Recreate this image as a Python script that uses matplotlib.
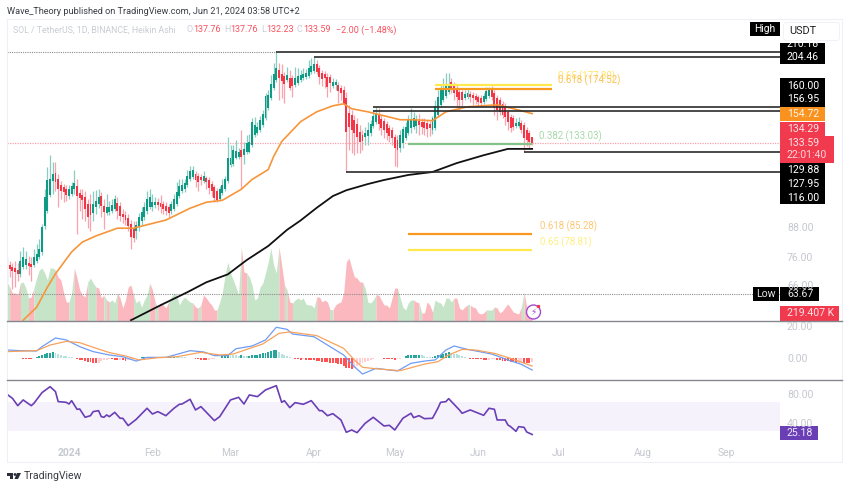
import matplotlib
matplotlib.use("Agg")
import matplotlib.pyplot as plt
import matplotlib.dates as mdates
from matplotlib.patches import Rectangle, Circle, Polygon, FancyBboxPatch
import numpy as np
import pandas as pd

plt.rcParams['font.family'] = ['Roboto', 'DejaVu Sans']

# Heikin Ashi candles, one value per day from 2023-12-09
opens = [67.8,73.3,72.6,72.3,71.6,70.2,72.6,73.3,74.0,73.7,
    73.3,74.8,76.3,78.2,88.8,95.6,103.4,110.7,115.2,111.8,
    108.6,107.5,106.5,102.9,103.9,106.5,108.0,104.4,103.4,102.4,
    98.9,98.9,94.7,97.5,98.9,102.9,98.0,94.7,95.1,95.6,
    96.5,99.4,98.0,94.2,93.7,92.4,89.7,87.5,86.7,88.4,
    91.0,92.8,95.6,97.5,97.5,98.4,99.9,99.4,98.9,98.0,
    97.5,95.6,96.5,98.9,102.9,105.4,106.5,108.6,111.8,112.9,
    114.6,113.5,112.9,110.7,112.4,111.3,109.1,107.5,105.4,101.4,
    104.4,106.5,110.7,119.8,120.4,124.5,125.2,129.6,126.4,128.3,
    128.3,132.8,139.5,140.8,142.9,146.5,151.6,159.2,167.2,175.7,
    182.7,191.9,188.2,186.3,182.7,184.5,184.5,178.3,180.0,182.7,
    184.5,185.4,186.3,190.0,191.0,197.6,193.8,189.1,188.2,185.4,
    185.4,177.4,178.3,178.3,175.7,174.0,167.2,155.4,153.9,150.1,
    147.2,141.5,139.5,138.1,138.8,140.8,145.8,148.7,153.9,150.9,
    149.4,147.2,144.3,142.9,138.1,136.1,130.8,134.1,137.4,140.8,
    144.3,145.0,145.8,149.4,148.7,148.7,147.9,147.2,142.9,144.3,
    153.9,161.6,165.6,168.9,172.3,180.9,178.3,175.7,172.3,172.3,
    167.2,168.1,170.6,169.7,168.9,168.1,167.2,164.0,166.4,168.9,
    174.0,171.4,167.2,165.6,162.4,160.8,156.1,152.3,151.6,145.8,
    145.8,147.9,146.5,142.9,140.8,137.76]
closes = [74.4,71.9,71.2,70.9,70.2,74.8,76.3,75.5,73.0,72.6,
    76.3,77.4,79.3,88.4,102.4,111.3,111.8,114.6,110.2,106.5,
    105.4,104.9,103.4,106.5,108.0,109.6,102.9,101.9,100.9,96.5,
    92.8,93.7,98.9,100.4,102.4,98.0,95.1,97.5,97.5,98.4,
    101.4,95.6,93.3,92.8,91.5,88.8,84.1,83.7,89.3,92.8,
    95.1,97.5,101.4,102.4,99.9,99.9,98.4,97.5,96.5,95.6,
    94.7,98.9,101.4,104.9,108.0,108.6,109.6,114.0,116.3,116.9,
    111.3,110.2,111.3,113.5,110.2,107.0,105.4,101.9,100.9,106.5,
    108.6,111.8,124.5,124.5,129.6,128.9,128.3,125.2,130.2,134.1,
    134.8,148.7,146.5,145.0,150.1,154.6,168.9,169.7,179.2,188.2,
    193.8,184.5,181.8,179.2,187.3,175.7,177.4,184.5,186.3,187.3,
    188.2,189.1,193.8,195.7,197.6,190.0,185.4,183.6,184.5,176.5,
    180.0,180.9,180.9,173.1,171.4,162.4,141.5,145.0,142.9,140.8,
    138.1,134.8,135.4,140.8,142.9,147.2,153.1,155.4,147.2,144.3,
    142.9,140.8,138.8,137.4,130.8,129.6,139.5,143.6,145.0,150.1,
    150.1,151.6,150.1,146.5,145.0,144.3,143.6,144.3,151.6,160.8,
    168.1,174.0,175.7,179.2,179.2,174.0,171.4,168.1,165.6,165.6,
    170.6,171.4,168.1,167.2,165.6,164.0,163.2,168.9,173.1,174.0,
    168.1,160.0,157.7,156.1,153.9,152.3,148.7,144.3,145.0,147.9,
    148.7,142.9,137.4,136.1,134.8,133.59]
highs = [76.3,74.8,74.0,74.8,74.0,78.5,80.1,78.5,76.6,76.3,
    79.3,81.3,83.3,89.7,106.5,118.6,126.4,121.6,121.6,114.6,
    110.7,109.1,108.6,108.6,110.2,116.9,111.8,106.5,106.5,105.4,
    101.4,103.9,105.4,105.9,106.5,104.9,101.4,103.9,100.4,101.4,
    103.4,102.4,99.9,96.5,95.6,94.2,91.5,91.0,91.0,94.7,
    97.5,99.9,105.4,106.5,103.9,102.4,101.9,103.4,100.4,99.9,
    98.9,100.4,103.9,110.2,111.8,111.8,111.8,117.4,119.2,119.2,
    116.3,115.2,114.6,116.3,114.0,112.9,110.7,108.6,107.0,108.0,
    111.8,114.0,138.1,132.8,132.8,136.1,130.8,142.9,134.8,139.5,
    140.1,151.6,152.3,148.7,153.1,157.7,171.4,174.0,187.3,198.6,
    210.18,198.6,197.6,190.0,194.7,191.9,187.3,194.7,193.8,191.9,
    193.8,192.8,201.6,203.6,204.6,201.6,196.7,191.9,191.0,189.1,
    188.2,184.5,183.6,180.9,178.3,177.4,172.3,161.6,157.7,153.9,
    151.6,146.5,142.9,145.0,148.7,150.1,157.7,160.0,159.2,153.9,
    151.6,149.4,146.5,145.0,140.1,139.5,142.9,145.8,148.7,153.9,
    159.2,156.1,153.9,154.6,151.6,151.6,150.1,149.4,153.1,165.6,
    174.0,179.2,184.5,189.1,189.1,184.5,180.9,178.3,174.8,174.0,
    174.0,174.8,173.1,172.3,171.4,169.7,169.7,171.4,176.5,176.5,
    177.4,174.0,169.7,168.1,164.8,163.2,158.5,154.6,153.9,151.6,
    152.3,150.1,148.7,145.0,142.9,137.76]
lows = [67.5,69.2,65.2,65.9,67.8,69.2,71.9,71.9,69.9,67.8,
    72.6,74.0,75.5,77.0,87.5,94.7,102.4,103.9,105.4,97.5,
    101.4,99.9,100.4,101.4,102.9,103.9,85.4,95.6,91.9,91.0,
    87.9,86.7,91.0,94.2,97.0,92.8,87.5,93.7,93.7,94.7,
    95.6,91.9,91.0,90.1,89.3,86.7,79.3,82.1,83.3,86.7,
    89.3,91.5,94.2,96.5,95.6,97.0,96.1,94.7,94.2,93.7,
    92.8,94.2,95.6,98.0,101.9,104.4,104.9,107.5,110.7,111.8,
    107.5,105.4,108.6,109.6,106.5,103.9,102.9,99.9,99.9,100.4,
    103.4,105.4,109.6,118.6,119.2,123.4,123.9,106.5,120.4,127.0,
    127.6,131.5,138.1,139.5,141.5,145.0,150.1,157.7,165.6,174.0,
    180.9,165.6,167.2,163.2,180.9,174.0,168.1,176.5,178.3,180.9,
    182.7,183.6,184.5,188.2,189.1,188.2,179.2,177.4,175.7,168.1,
    172.3,175.7,174.0,163.2,165.6,161.6,116.3,129.6,127.6,126.4,
    127.6,127.6,129.6,132.8,132.8,138.8,144.3,147.2,142.9,139.5,
    137.4,136.1,134.8,132.8,119.2,118.6,128.3,130.8,136.1,139.5,
    140.8,143.6,140.8,139.5,140.1,139.5,138.1,138.8,140.1,142.9,
    152.3,160.0,164.0,167.2,170.6,171.4,165.6,160.0,157.7,160.8,
    165.6,166.4,164.0,161.6,162.4,160.8,160.8,162.4,164.8,167.2,
    165.6,153.9,150.1,153.9,151.6,146.5,142.9,141.5,142.9,144.3,
    144.3,140.8,128.3,132.1,130.8,132.23]

# moving averages, read at the day numbers given
ema50_days = [6,11,15,18,24,28,33,41,47,50,59,68,74,80,87,91,97,99,102,109,115,121,125,128,134,140,146,151,158,163,171,182,188,195]
ema50_vals = [55.8,59.5,65.7,70.2,78.2,82.1,84.6,87.9,87.9,88.8,91.5,97.0,99.9,100.9,106.5,111.8,117.4,125.2,134.8,148.7,156.1,160.8,162.4,158.5,156.1,153.1,150.1,150.1,149.4,156.1,160.0,161.6,158.5,154.72]
ema200_days = [46,57,67,74,82,89,97,104,109,115,121,126,134,140,149,158,167,177,186,195]
ema200_vals = [55.8,60.1,64.1,67.3,70.0,75.1,80.5,87.2,91.3,97.2,103.0,106.0,109.3,111.5,114.3,116.0,121.2,126.0,130.0,130.0]

# thousands
volume = [1404,1224,1008,1008,936,1368,1404,1188,828,864,
    1188,1548,1836,1908,1728,1476,1908,1908,1836,1584,
    1476,1044,684,684,1008,1908,1548,1116,936,864,
    1404,1548,1368,1224,1188,828,936,756,684,756,
    648,1008,828,468,756,1224,1296,936,648,756,
    504,756,936,1368,1116,684,504,648,576,468,
    684,864,1008,936,576,756,864,756,684,648,
    504,468,576,936,828,684,576,396,396,684,
    1044,1656,2124,1728,1476,1224,936,2664,1764,1728,
    1584,1296,756,828,1224,1368,1728,2124,2628,2016,
    1728,2664,2016,1296,1116,684,648,756,828,756,
    828,612,576,576,468,864,864,684,756,684,
    396,396,576,648,684,1008,2124,2268,1908,1584,
    1548,1404,1404,1188,684,648,756,936,936,756,
    576,576,468,828,1188,1188,828,504,396,648,
    756,756,684,648,288,288,684,576,324,756,
    684,648,504,828,828,684,828,828,468,396,
    504,576,576,504,468,288,252,288,396,396,
    396,504,468,288,360,504,612,468,324,288,
    252,504,1044,504,324,219]
volume_side = ("GRRRRGGGRRGGGGGGGGRRRRRGGRRRRRGGGRRRGRGGGRRRRRRGGGGGGRRGRRRR"
    "GGGGGGGGGRRGRRRRRRGGGGGGGGGRRGGGGGGGGGGGGRRGRRGGGGGGGGGRRRRRG"
    "RRRRRRRRRRRGGGGGRRRRRRRRGGGGGGRRGRRRRGGGGGGGGRRRRRGRRRRRRGGGRR"
    "RRRRRRRRGRRRRR")

macd_days = [0,5,11,13,18,22,27,32,38,43,48,52,59,68,73,77,82,85,91,96,100,104,106,114,119,125,129,132,137,145,150,155,159,163,166,171,180,186,191,195]
macd_vals = [5.2,4.8,4.6,7.3,12.7,11.5,7.3,4.2,2.1,1.0,-1.7,0.6,0.6,4.8,4.0,1.7,1.7,6.0,7.7,11.5,19.4,18.1,15.2,13.5,8.3,2.1,-5.2,-9.8,-6.25,-7.9,-3.1,-1.7,-1.0,5.2,7.7,5.6,2.7,-1.0,-3.75,-7.3]
signal_days = [0,11,16,22,27,32,38,44,49,56,63,72,79,84,95,101,105,115,125,129,132,137,146,155,160,164,169,174,181,187,195]
signal_vals = [4.2,4.8,8.3,10.6,9.8,6.9,3.6,1.5,-1.0,0.4,1.0,3.75,2.1,2.7,9.0,15.6,16.5,14.2,6.25,-1.0,-5.6,-6.5,-7.7,-3.6,-2.1,2.1,5.6,5.2,3.1,0.0,-4.8]
macd_hist = [0.3,0.3,0.2,0.2,0.2,0.2,-0.2,-0.2,-0.3,-0.3,
    0.2,0.8,1.5,2.2,2.8,3.2,3.5,3.8,3.4,2.6,
    2.2,1.7,1.3,1.0,0.7,0.3,-0.3,-0.8,-1.3,-1.6,
    -2.0,-2.4,-2.8,-3.0,-2.6,-1.8,-1.2,-0.9,-0.7,-0.7,
    -0.9,-1.1,-1.0,-1.3,-1.6,-1.1,-0.8,-0.4,0.2,0.4,
    0.6,0.7,0.8,0.7,0.7,0.9,0.8,0.7,0.6,0.5,
    0.9,1.0,1.1,1.0,0.9,0.7,0.6,0.4,0.3,0.2,
    -0.3,-0.6,-0.9,-1.1,-1.3,-1.0,-0.6,-0.3,0.2,0.5,
    1.5,2.2,2.6,2.3,2.0,1.8,1.6,2.0,1.7,1.4,
    1.6,1.8,2.0,2.4,2.8,3.2,3.6,4.0,4.6,5.2,
    5.4,4.2,3.0,2.0,1.2,0.6,0.3,-0.3,-0.5,-0.8,
    -0.6,-0.9,-1.0,-1.2,-1.3,-1.5,-1.8,-2.0,-2.2,-2.4,
    -2.6,-3.0,-3.2,-3.4,-3.6,-5.0,-6.0,-6.2,-6.4,-6.0,
    -4.6,-3.6,-2.8,-2.0,-1.4,-0.8,-0.3,0.3,0.4,0.3,
    -0.3,-0.5,-0.6,-0.7,-0.8,-0.5,-0.3,0.5,1.2,1.8,
    2.0,2.2,2.2,2.4,2.2,1.2,1.0,0.9,0.9,1.2,
    1.8,2.4,3.0,3.4,3.8,3.6,3.0,2.5,2.0,1.4,
    0.8,0.3,-0.3,-0.4,-0.5,-0.6,-0.7,-0.8,-0.9,-0.8,
    -0.7,-0.6,-0.9,-1.2,-1.4,-1.5,-1.8,-2.0,-2.4,-2.8,
    -2.6,-2.4,-2.6,-2.9,-3.0,-2.5]

rsi_days = [0,2,4,6,9,10,13,16,18,19,22,23,24,26,27,29,31,32,34,35,36,37,38,40,42,43,45,48,52,54,56,59,62,64,65,68,70,72,77,79,83,86,88,90,93,96,100,102,103,105,107,110,113,116,117,119,121,124,126,128,130,133,136,140,142,144,147,150,151,153,155,158,160,161,163,164,168,169,172,177,179,181,182,185,186,187,189,190,192,193,195]
rsi_vals = [80.6,75.1,64.9,72.8,64.9,68.2,82.9,91.1,84.3,70.5,69.5,67.2,71.8,59.9,60.3,48.9,51.1,56.7,58.0,49.8,48.9,52.1,49.8,55.7,47.5,47.5,37.4,46.1,61.3,53.4,56.7,51.1,61.3,66.8,67.2,73.7,59.0,63.6,44.3,49.8,72.8,76.4,67.2,79.7,77.4,86.6,92.5,69.5,71.8,62.2,69.1,66.8,71.8,58.0,58.0,51.1,53.9,45.2,28.2,31.4,27.7,40.6,48.9,36.9,37.8,31.4,47.5,54.4,48.4,51.1,47.0,47.5,61.3,69.5,70.5,74.6,59.0,54.4,59.0,51.6,61.3,59.9,45.2,45.2,38.3,36.0,29.5,36.0,35.0,28.6,25.18]

# price, first day of the line
black_levels = [210.18, 204.46, 160.00, 156.95, 127.95, 116.00]
black_starts = [100, 114, 136, 136, 192, 126]
month_dates = ["2024-01-01", "2024-02-01", "2024-03-01", "2024-04-01", "2024-05-01", "2024-06-01", "2024-07-01", "2024-08-01", "2024-09-01"]
month_labels = ["2024", "Feb", "Mar", "Apr", "May", "Jun", "Jul", "Aug", "Sep"]

days = mdates.date2num(pd.date_range("2023-12-09", periods=len(closes)))
W, H = 850, 488
UP, DOWN = "#0f9b83", "#f23645"
UP_WICK, DOWN_WICK = "#86cfc0", "#f8a3ad"
GREY = "#c6c8d0"


def px_axes(left, top, right, bottom, z):
    a = fig.add_axes([left / W, 1 - bottom / H, (right - left) / W, (bottom - top) / H], zorder=z)
    a.patch.set_alpha(0)
    for s in a.spines.values():
        s.set_visible(False)
    a.set_xlim(days[0], days[0] + 773 / 2.693)
    a.set_yticks([])
    a.set_xticks([])
    return a


fig = plt.figure(figsize=(W / 100, H / 100), dpi=100, facecolor="white")

# volume sits under the candles
ax_vol = px_axes(7, 19, 780, 321, 1)
ax_vol.set_ylim(0, 36 * 302)
start = 0
for i in range(1, len(volume) + 1):
    if i == len(volume) or volume_side[i] != volume_side[start]:
        stop = min(i + 1, len(volume))
        ax_vol.fill_between(days[start:stop], volume[start:stop], 0, lw=0,
                            color="#c6e4c8" if volume_side[start] == "G" else "#fbb8be")
        start = i

# price panel
ax = px_axes(7, 19, 780, 321, 2)
ax.set_yscale("log")
ax.set_ylim(55.6, 246.8)
ax.minorticks_off()
ax.set_yticks([])
ax.set_xticks([])
is_up = np.array(closes) >= np.array(opens)
ax.vlines(days, lows, highs, colors=[UP_WICK if u else DOWN_WICK for u in is_up], lw=0.9, zorder=3)
body_low = np.minimum(opens, closes)
body_size = np.abs(np.array(closes) - np.array(opens))
ax.bar(days, body_size, bottom=body_low, width=0.72, color=[UP if u else DOWN for u in is_up], lw=0, zorder=4)
ax.plot(days[ema50_days], ema50_vals, color="#f7953a", lw=1.2, zorder=5)
ax.plot(days[ema200_days], ema200_vals, color="#111111", lw=1.3, zorder=5)

right = ax.get_xlim()[1]
ax.hlines(black_levels, days[black_starts], right, color="#2b2b2b", lw=1.2, zorder=6)
ax.hlines(210.18, days[0], days[100], color="#8d8d8d", lw=0.8, linestyles=(0, (1, 1)), zorder=2)
ax.hlines(63.67, days[0], right, color="#8d8d8d", lw=0.8, linestyles=(0, (1, 1)), zorder=2)
ax.hlines(133.59, days[0], right, color="#f8a0aa", lw=0.9, linestyles=(0, (1, 1)), zorder=2)
ax.hlines(133.03, days[149], days[195], color="#84c488", lw=1.6, zorder=6)
ax.hlines(177.8, days[159], days[159] + 43.5, color="#ffe94d", lw=1.6, zorder=6)
ax.hlines(174.52, days[159], days[159] + 43.5, color="#f9981f", lw=1.6, zorder=6)
ax.hlines(85.28, days[149], days[195], color="#f9981f", lw=1.6, zorder=6)
ax.hlines(78.81, days[149], days[195], color="#ffe94d", lw=1.6, zorder=6)

# macd panel
ax_macd = px_axes(7, 322, 780, 379, 2)
ax_macd.set_ylim(-12.9, 22.7)
hist_colors = []
for i, h in enumerate(macd_hist):
    prev = macd_hist[i - 1] if i else 0
    if h >= 0:
        hist_colors.append("#26a69a" if h >= prev else "#b7e1dc")
    else:
        hist_colors.append("#ff5252" if h <= prev else "#ffcdd2")
ax_macd.bar(days, macd_hist, width=0.72, color=hist_colors, lw=0)
ax_macd.plot(days[macd_days], macd_vals, color="#6f9cf5", lw=0.9)
ax_macd.plot(days[signal_days], signal_vals, color="#f7a25c", lw=0.9)

# rsi panel
ax_rsi = px_axes(7, 380, 780, 442, 2)
ax_rsi.set_ylim(14.8, 100.3)
ax_rsi.axhspan(30, 70, color="#f5f2fc", lw=0)
ax_rsi.plot(days[rsi_days], rsi_vals, color="#6a3fb5", lw=1.2)
ax_rsi.set_xticks(mdates.date2num(pd.to_datetime(month_dates)))
ax_rsi.set_xticklabels(month_labels, color=GREY, fontsize=7.4)
ax_rsi.get_xticklabels()[0].set_fontweight("bold")
ax_rsi.tick_params(axis="x", length=0, pad=4)

# everything placed by pixel: frame, price tags, titles
ov = fig.add_axes([0, 0, 1, 1], zorder=10)
ov.set_xlim(0, W)
ov.set_ylim(H, 0)
ov.axis("off")


def box(x0, y0, x1, y1, color):
    p = Rectangle((x0, y0), x1 - x0, y1 - y0, color=color, lw=0)
    ov.add_patch(p)
    return p


def tag(x, y, s, color="white", size=7.6, ha="left", **kw):
    return ov.text(x, y, s, color=color, fontsize=size, ha=ha, va="center", **kw)


ov.plot([7, 7, 842, 842, 7], [19, 462, 462, 19, 19], color="#eef0f6", lw=0.8)
ov.plot([7, 842], [321, 321], color="#85878f", lw=1.0)
ov.plot([7, 842], [379.5, 379.5], color="#85878f", lw=1.0)

tag(7, 11, "Wave_Theory published on TradingView.com, Jun 21, 2024 03:58 UTC+2", color="#3a3d45", size=6.6)
tag(13, 30, "SOL / TetherUS, 1D, BINANCE, Heikin Ashi", color="#c9ccd4", size=6.3)
for x, s, c in [(187, "O", "#c9ccd4"), (193, "137.76", "#f7525f"), (224, "H", "#c9ccd4"), (230, "137.76", "#f7525f"),
                (261, "L", "#c9ccd4"), (266, "132.23", "#f7525f"), (297, "C", "#c9ccd4"), (303, "133.59", "#f7525f"),
                (336, "−2.00 (−1.48%)", "#f7525f")]:
    tag(x, 30, s, color=c, size=6.5)

# fib labels
tag(558, 76.5, "0.65 (177.80)", color="#ffe36e", size=6.9)
tag(558, 80.5, "0.618 (174.52)", color="#fbc15a", size=6.9)
tag(539, 136, "0.382 (133.03)", color="#a9d8ab", size=6.9)
tag(540, 226, "0.618 (85.28)", color="#fdc878", size=6.9)
tag(540, 242, "0.65 (78.81)", color="#ffee80", size=6.9)

# right scale
for y, s in [(228, "88.00"), (258, "76.00"), (286, "66.00"), (327, "20.00"), (359, "0.00"), (395, "80.00"), (424, "40.00")]:
    tag(787, y, s, color=GREY)

box(750, 22, 780, 36, "black")
tag(765, 29, "High", ha="center", size=7.4)
ov.add_patch(FancyBboxPatch((785, 24), 53, 15, boxstyle="round,pad=1.5,rounding_size=3", fc="white", ec="#f0f2f7", lw=0.7))
tag(789, 31, "USDT", color="#222222", size=7.8)

clip = box(780, 43, 825, 64, "black")
t = tag(787, 44, "210.18")
t.set_clip_path(clip)
tag(787, 57.5, "204.46")
box(780, 78, 825, 107, "black")
tag(787, 86, "160.00")
tag(787, 99.5, "156.95")
box(780, 107, 825, 121, "#f9921e")
tag(787, 114, "154.72", color="#fff3e0")
box(780, 122, 825, 137, "#f23a4f")
box(780, 136, 834, 163, "#f23a4f")
tag(787, 129, "134.29", color="#ffe3e6")
tag(787, 143, "133.59", color="#ffe3e6")
tag(787, 155.5, "22:01:40", color="#ffd3d8")
box(780, 163, 825, 204, "black")
tag(787, 170, "129.88")
tag(787, 184, "127.95")
tag(787, 198, "116.00")

box(753, 287, 779, 301, "black")
tag(766, 294, "Low", ha="center", color="#e6e6e6")
box(780, 287, 819, 301, "black")
tag(787, 294, "63.67", color="#e6e6e6")
box(780, 306, 839, 321, "#f23a4f")
tag(787, 313.5, "219.407 K", color="#ffe3e6")
box(780, 426, 818, 440, "#6a3fb5")
tag(787, 433, "25.18", color="#efe8fb")

# alert icon on the last bar
ov.add_patch(Circle((533.5, 312), 7, fc="white", ec="#a24bd1", lw=1.0))
tag(533.5, 312, "⚡", color="#a24bd1", size=6.5, ha="center", family="DejaVu Sans")
ov.add_patch(Circle((538.5, 306.5), 1.7, fc="#f23645", lw=0))

# footer logo
box(7, 473, 13, 475.5, "#2a2e39")
box(10, 473, 13, 479, "#2a2e39")
ov.add_patch(Circle((15, 474.5), 1.4, fc="#2a2e39", lw=0))
ov.add_patch(Polygon([(17, 473), (21, 473), (18, 479), (14.5, 479)], fc="#2a2e39", lw=0))
tag(24, 476, "TradingView", color="#3a3d45", size=7.6)

fig.savefig("out.png", dpi=100)
